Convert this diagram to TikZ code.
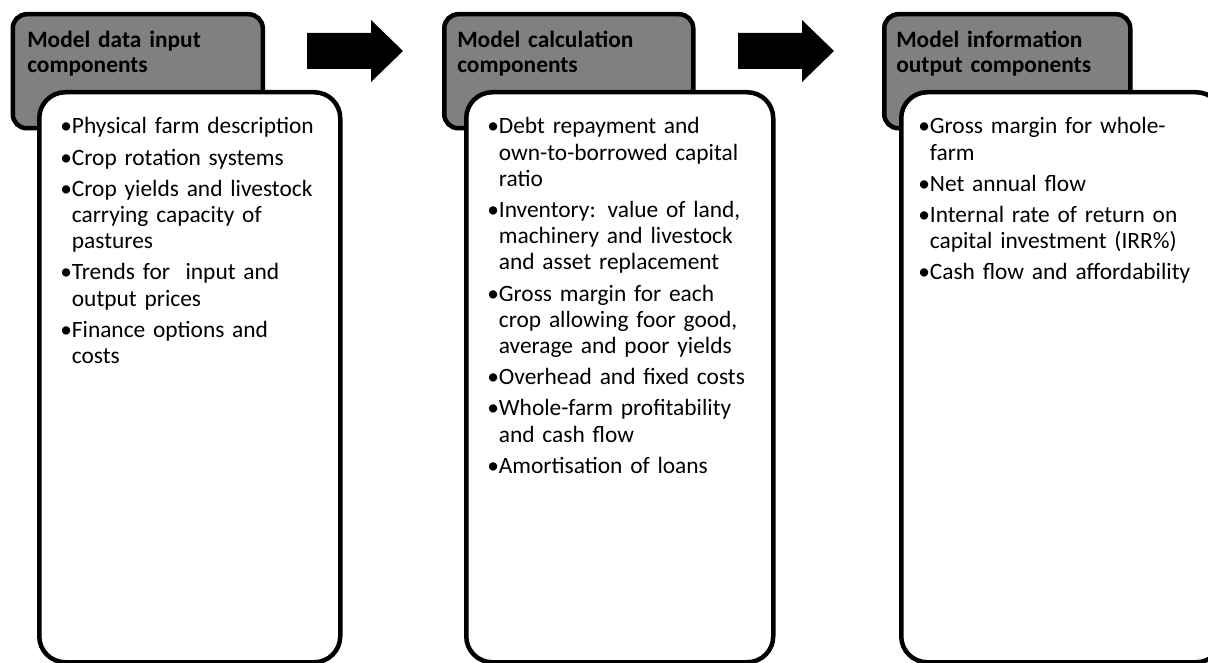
\documentclass[tikz,border=0pt]{standalone}
\usepackage{fontspec}
\setmainfont{Carlito}
\newlength{\bltw}
% one bullet item, later lines hang under the text
\newcommand{\itm}[1]{\settowidth{\bltw}{•}\hangindent=\bltw\hangafter=1\noindent•#1\par}

\begin{document}
\begin{tikzpicture}[x=1pt, y=-1pt, line width=4.5pt,
  headbox/.style={draw, fill=black!50, rounded corners=14pt, inner sep=0pt,
    anchor=north west, minimum height=114pt},
  listbox/.style={draw, fill=white, rounded corners=26pt, inner sep=0pt,
    anchor=north west, minimum height=570pt},
  headtext/.style={anchor=base west, inner sep=0pt, text width=240pt, align=left,
    font=\fontsize{23.4}{25}\selectfont\bfseries},
  listtext/.style={anchor=base west, inner sep=0pt, text width=330pt, align=left,
    font=\fontsize{23.4}{26.2}\selectfont}]
  \useasboundingbox (0,0) rectangle (1208,663);

  \foreach \i/\hx/\hw/\lx/\lw in {1/10.5/250/37/301, 2/442/249/464/307, 3/882/246/899/321} {
    \node[headbox, minimum width=\hw pt] (head\i) at (\hx,12) {};
    \node[listbox, minimum width=\lw pt] (list\i) at (\lx,90) {};
  }

  \node[headtext] (title1) at (25,48) {Model data input\\components};
  \node[headtext] (title2) at (455,48) {Model calculation\\components};
  \node[headtext] (title3) at (894,48) {Model information\\output components};

  \node[listtext] (items1) at (58,134) {\setlength{\parskip}{5pt}%
    \itm{Physical farm description}
    \itm{Crop rotation systems}
    \itm{Crop yields and livestock\newline carrying capacity of\newline pastures}
    \itm{Trends for\ \ input and\newline output prices}
    \itm{Finance options and\newline costs}};
  \node[listtext] (items2) at (485,134) {\setlength{\parskip}{5pt}%
    \itm{Debt repayment and\newline own-to-borrowed capital\newline ratio}
    \itm{Inventory: value of land,\newline machinery and livestock\newline and asset replacement}
    \itm{Gross margin for each\newline crop allowing foor good,\newline average and poor yields}
    \itm{Overhead and fixed costs}
    \itm{Whole-farm profitability\newline and cash flow}
    \itm{Amortisation of loans}};
  \node[listtext] (items3) at (916,134) {\setlength{\parskip}{5pt}%
    \itm{Gross margin for whole-\newline farm}
    \itm{Net annual flow}
    \itm{Internal rate of return on\newline capital investment (IRR\%)}
    \itm{Cash flow and affordability}};

  % block arrows between the columns
  \foreach \ax in {307, 738}
    \fill (\ax,33) -- ++(64,0) -- ++(0,-13) -- ++(32,31) -- ++(-32,31)
      -- ++(0,-13) -- ++(-64,0) -- cycle;
\end{tikzpicture}
\end{document}
